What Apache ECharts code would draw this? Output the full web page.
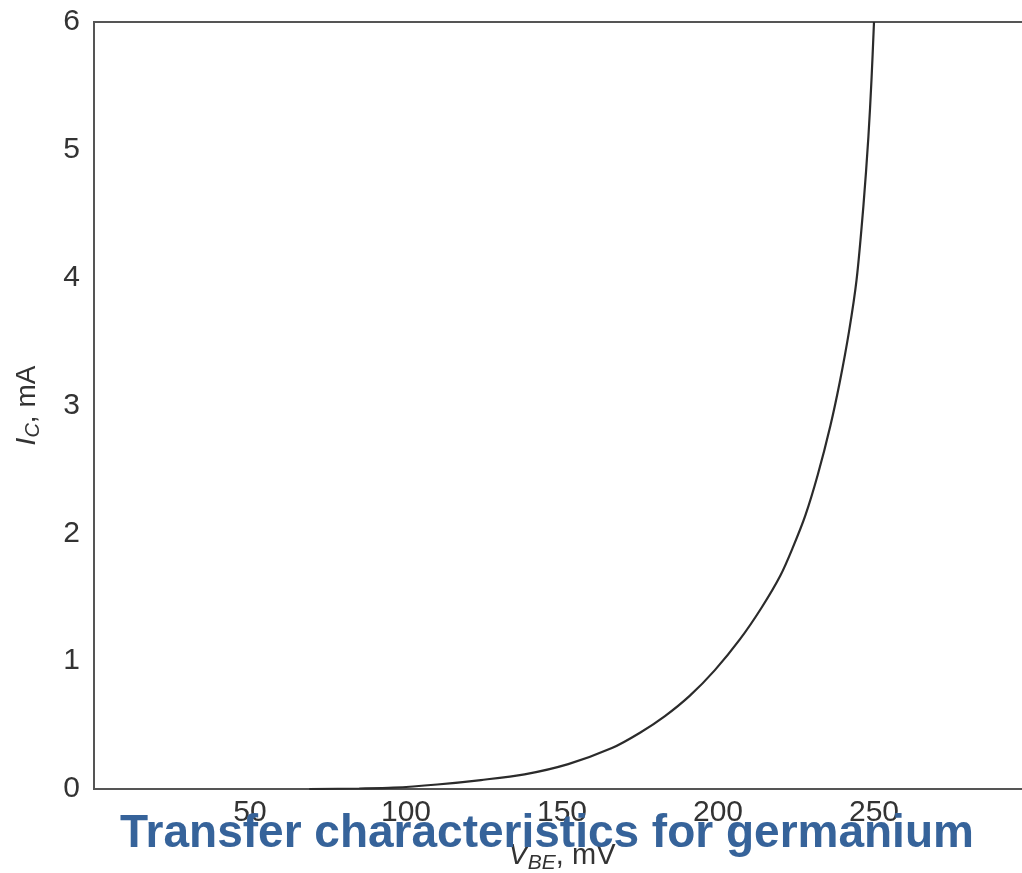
<!DOCTYPE html>
<html>
<head>
<meta charset="utf-8">
<script src="https://cdn.jsdelivr.net/npm/echarts@6/dist/echarts.min.js"></script>
<style>
html,body{margin:0;padding:0;background:#fff;}
#chart{width:1022px;height:873px;}
</style>
</head>
<body>
<div id="chart"></div>
<script>
// V_BE in mV
const vbe = [69, 85, 96, 110, 124, 138, 152, 166, 175, 183, 191, 199, 207, 214, 220, 224, 228, 232, 236, 239, 242, 244.4, 246.6, 248.2, 249.2, 250];
// I_C in mA
const ic = [0, 0.004, 0.01, 0.035, 0.07, 0.115, 0.195, 0.32, 0.44, 0.57, 0.73, 0.93, 1.17, 1.42, 1.67, 1.89, 2.14, 2.46, 2.84, 3.18, 3.58, 3.98, 4.56, 5.10, 5.55, 6.0];
const xTicks = [50, 100, 150, 200, 250];
const yTicks = [0, 1, 2, 3, 4, 5, 6];
const titleText = 'Transfer characteristics for germanium';

const pts = vbe.map((v, i) => [v, ic[i]]);
const chart = echarts.init(document.getElementById('chart'), null, {renderer: 'canvas'});
const font = 'Liberation Sans, Arial, Helvetica, sans-serif';
chart.setOption({
  animation: false,
  backgroundColor: '#fff',
  grid: {left: 94, top: 22, width: 936, height: 767, outerBoundsMode: 'none', containLabel: false,
         show: true, borderColor: '#555', borderWidth: 2, backgroundColor: 'transparent'},
  xAxis: {
    type: 'value', min: 0, max: 300, interval: 50,
    axisLine: {show: true, onZero: false, lineStyle: {color: '#555', width: 2}},
    axisTick: {show: false},
    splitLine: {show: false},
    axisLabel: {
      color: '#333', fontSize: 30, fontFamily: font, margin: 9,
      formatter: v => xTicks.indexOf(v) >= 0 ? String(v) : ''
    },
    name: '{i|V}{s|BE}{n|, mV}',
    nameLocation: 'middle', nameGap: 52,
    nameTextStyle: {
      rich: {
        i: {fontStyle: 'italic', fontSize: 29, color: '#333', fontFamily: font, lineHeight: 30},
        s: {fontStyle: 'italic', fontSize: 21, color: '#333', fontFamily: font, lineHeight: 30, padding: [14, 0, 0, 0]},
        n: {fontSize: 29, color: '#333', fontFamily: font, lineHeight: 30}
      }
    }
  },
  yAxis: {
    type: 'value', min: 0, max: 6, interval: 1,
    axisLine: {show: true, lineStyle: {color: '#555', width: 2}},
    axisTick: {show: false},
    splitLine: {show: false},
    axisLabel: {
      color: '#333', fontSize: 30, fontFamily: font, margin: 14,
      formatter: v => yTicks.indexOf(v) >= 0 ? String(v) : ''
    },
    name: '{i|I}{s|C}{n|, mA}',
    nameLocation: 'middle', nameGap: 52,
    nameTextStyle: {
      rich: {
        i: {fontStyle: 'italic', fontSize: 28, color: '#333', fontFamily: font, lineHeight: 30},
        s: {fontStyle: 'italic', fontSize: 20, color: '#333', fontFamily: font, lineHeight: 30, padding: [12, 0, 0, 0]},
        n: {fontSize: 28, color: '#333', fontFamily: font, lineHeight: 30}
      }
    }
  },
  series: [{
    type: 'line',
    data: pts,
    showSymbol: false,
    smooth: 0.3,
    lineStyle: {color: '#2b2b2b', width: 2.2},
    z: 3
  }],
  title: {
    text: titleText,
    left: 120, top: 811, padding: 0,
    textStyle: {color: '#36639a', fontSize: 46, fontWeight: 'bold', fontFamily: font, lineHeight: 46}
  }
});
</script>
</body>
</html>
